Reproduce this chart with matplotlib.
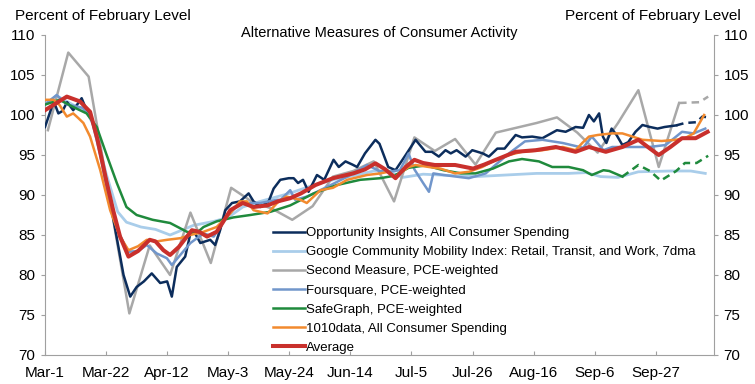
import matplotlib
matplotlib.use("Agg")
import matplotlib.pyplot as plt

plt.rcParams['font.family'] = ['Liberation Sans', 'DejaVu Sans']

# days since Mar-1
tick_days = [0, 21, 42, 63, 84, 105, 126, 147, 168, 189, 210]
tick_labels = ["Mar-1", "Mar-22", "Apr-12", "May-3", "May-24", "Jun-14",
               "Jul-5", "Jul-26", "Aug-16", "Sep-6", "Sep-27"]

# Opportunity Insights
oi_days = [0, 3, 4.6, 6, 7.6, 9.7, 12.6, 14.3, 15.5, 18, 21, 24, 27, 29.3, 31.5, 34, 36.7, 39.6, 42, 43.6,
           45.3, 48.2, 50, 51, 53.4, 56.8, 58.5, 60.2, 62, 64.3, 67, 70, 71.7, 74, 76.9, 78.6, 80.9, 83.8,
           85.5, 87, 88.7, 90.6, 93.5, 96, 99.2, 101, 103.3, 105.7, 107.3, 110, 113.6, 115, 118, 120.5,
           124, 127.4, 130.8, 133, 135.4, 137.7, 139.5, 141.5, 144.6, 146.9, 150.5, 152.6, 155.5, 158,
           161.8, 164, 167.5, 171, 176, 179, 182.4, 185, 187, 188.7, 190.5, 191.8, 193, 194.8, 196.5,
           198.5, 200.5, 203, 205.4, 208, 210.6, 213, 217]
oi_vals = [98.5, 101.7, 100.2, 100.5, 101.6, 100.6, 102.1, 100.6, 100.2, 97, 92, 86, 80, 77.3, 78.5, 79.2,
           80.2, 79.0, 79.2, 77.3, 81.0, 82.3, 85.2, 85.6, 84.0, 84.4, 83.75, 85.6, 88.1, 89.0, 89.2, 90.2,
           89.2, 88.5, 89.2, 90.8, 91.9, 92.1, 92.1, 91.5, 91.9, 90.4, 92.5, 91.9, 94.4, 93.5, 94.2, 93.8,
           93.5, 95.2, 96.9, 96.4, 93.5, 93.1, 95.0, 96.9, 95.4, 95.4, 94.8, 95.6, 95.2, 95.6, 94.8, 95.6,
           95.2, 94.8, 95.8, 95.8, 97.5, 97.2, 97.3, 97.1, 98.1, 97.9, 98.5, 98.4, 100.0, 99.2, 100.2, 97.3,
           96.5, 98.3, 97.5, 96.25, 96.6, 97.9, 98.75, 98.5, 98.3, 98.5, 98.7]
oi_dash_days = [217, 220, 224, 226, 228]
oi_dash_vals = [98.7, 99.0, 99.1, 99.8, 99.7]

# Google Community Mobility
gm_days = [0, 4, 10, 14, 17, 21, 25, 28, 33, 38, 43, 47, 51, 58, 63, 68, 74, 84, 92, 100, 106, 113, 118,
           123, 130, 148, 169, 180, 186, 191, 197, 204, 215, 222, 227]
gm_vals = [101.4, 102.4, 101.2, 100.6, 98.5, 92.7, 87.9, 86.6, 86.0, 85.7, 85.0, 85.6, 86.2, 86.7, 87.2,
           88.5, 89.2, 90.2, 91.2, 92.0, 92.4, 93.0, 93.0, 92.2, 92.6, 92.3, 92.7, 92.7, 92.8, 92.3, 92.2,
           92.9, 93.0, 93.0, 92.7]

# Second Measure (weekly)
sm_days = [1, 8, 15, 22, 29, 36, 43, 50, 57, 64, 71, 78, 85, 92, 99, 106, 113, 120, 127, 134, 141, 148,
           155, 162, 169, 176, 183, 190, 197, 204, 211, 218]
sm_vals = [98.1, 107.8, 104.8, 90.0, 75.2, 83.7, 80.0, 87.8, 81.5, 90.9, 89.2, 88.3, 86.9, 88.6, 92.3,
           93.0, 94.2, 89.2, 97.2, 95.5, 97.0, 93.8, 97.8, 98.4, 99.0, 99.7, 97.8, 95.3, 99.0, 103.1, 93.5,
           101.5]
sm_dash_days = [218, 225, 228]
sm_dash_vals = [101.5, 101.6, 102.3]

# Foursquare
fs_days = [0, 4, 7.6, 13, 16, 19, 22, 25, 28.7, 32, 35, 38.4, 41.9, 43.6, 46.5, 50, 54.5, 58, 62.5, 67,
           74, 79.8, 81, 84.3, 86, 90, 92.4, 98, 104, 110.7, 115, 118, 122, 125, 127, 130, 132, 133.5,
           137, 145.7, 151.5, 155, 159.5, 165, 171, 178, 185, 188, 192, 195, 200.8, 207.7, 213.4, 219,
           223, 227]
fs_vals = [101.3, 102.5, 101.3, 100.9, 99.5, 95, 89.5, 85.5, 82.9, 83.0, 83.75, 82.7, 82.1, 81.25, 82.5,
           84.0, 85.2, 84.8, 87.3, 89.0, 89.0, 89.4, 89.4, 90.6, 89.4, 89.8, 90.2, 91.2, 92.3, 93.75, 93.0,
           92.9, 93.1, 95.2, 93.2, 91.5, 90.4, 92.7, 92.5, 92.1, 92.7, 93.8, 95.2, 96.7, 96.9, 96.5, 95.9,
           97.3, 95.6, 96.0, 96.0, 96.0, 96.25, 97.9, 97.7, 98.3]

# SafeGraph
sg_days = [0, 5, 9.7, 14.3, 17.8, 21, 24.7, 28, 31.5, 37, 43, 48.8, 52, 54.5, 59, 64.8, 70.6, 77.5, 84.3,
           92.4, 100.4, 108.4, 115.3, 120, 125, 130.8, 137, 143, 148, 154, 159.5, 164, 169.8, 174.4, 180,
           185, 188, 192, 194, 198.5]
sg_vals = [101.3, 101.9, 101.0, 100.2, 98.5, 95.2, 91.5, 88.5, 87.5, 86.9, 86.5, 85.4, 85.2, 86.0, 86.7,
           87.2, 87.5, 87.9, 88.7, 90.2, 91.25, 91.9, 92.1, 92.4, 93.4, 93.7, 93.1, 92.7, 92.7, 93.3, 94.2,
           94.5, 94.2, 93.5, 93.5, 93.1, 92.5, 93.1, 93.0, 92.3]
sg_dash_days = [198.5, 204, 208, 211.7, 217, 220, 224, 228]
sg_dash_vals = [92.3, 93.75, 93.0, 91.8, 93.0, 94.0, 94.0, 94.9]

# 1010data
td_days = [0, 3, 5, 7.5, 9.7, 11.5, 13.2, 15.5, 19, 22.4, 25.8, 28.7, 32, 35, 38.4, 42, 46.5, 50, 54.5,
           59, 63.7, 67, 69.4, 71.7, 74, 76.5, 79.8, 83, 87.8, 90, 94.7, 99, 103.9, 110.7, 115.3, 118,
           120.5, 125, 127.4, 132, 136, 141, 145.7, 150.3, 155, 159.5, 164, 171, 178, 182.4, 184.7, 187,
           190, 194.8, 198.5, 202, 205.4, 212, 216.9, 220, 223, 226.6]
td_vals = [101.9, 101.9, 101.25, 99.8, 100.2, 99.6, 99.0, 97.3, 93.1, 88.1, 84.8, 83.1, 83.6, 84.4, 84.2,
           84.4, 84.6, 85.0, 85.4, 86.0, 87.7, 89.2, 89.2, 88.1, 87.9, 87.7, 89.0, 89.8, 89.4, 89.0, 90.6,
           90.9, 91.9, 92.5, 92.7, 92.9, 92.3, 93.5, 93.75, 93.5, 93.3, 92.7, 92.9, 93.5, 94.4, 95.0, 95.4,
           95.6, 96.0, 95.6, 96.5, 97.3, 97.5, 97.7, 97.7, 97.3, 96.9, 96.75, 96.9, 97.1, 97.7, 100.0]

# Average
av_days = [0, 4, 7.5, 12, 15.5, 18, 21, 23.5, 25.8, 28.7, 32, 36, 38, 40.7, 43, 46, 50.5, 53, 55.7, 59,
           61, 63.7, 68, 71.7, 76.5, 80, 84.3, 88, 93, 99, 106, 110, 113.6, 117, 120.5, 124, 127, 130,
           134, 141, 147.2, 151, 155, 161.8, 168.7, 175.6, 182.4, 187, 192.8, 198.5, 204, 208, 211, 215,
           219, 223.7, 227.8]
av_vals = [100.6, 101.5, 102.3, 101.7, 100.4, 97, 91.9, 88, 84.8, 82.3, 83.0, 84.4, 84.2, 83.1, 82.5,
           83.5, 85.6, 85.4, 84.8, 85.4, 86.5, 88.1, 89.0, 88.5, 88.7, 89.2, 89.6, 90.2, 91.25, 92.1, 92.7,
           93.2, 93.96, 93.2, 92.1, 93.5, 94.4, 94.0, 93.75, 93.75, 93.3, 93.8, 94.4, 95.4, 95.6, 96.0,
           95.4, 96.0, 95.4, 96.0, 96.9, 95.8, 95.0, 96.0, 97.1, 97.1, 97.9]

c_oi = "#0c2d5c"
c_gm = "#a9cdea"
c_sm = "#a8a8a8"
c_fs = "#7196cb"
c_sg = "#1f8a3c"
c_td = "#f28a2e"
c_av = "#c9302c"

fig = plt.figure(figsize=(7.55, 3.84), dpi=100)
ax = fig.add_axes([45 / 755, 1 - 355 / 384, (714 - 45) / 755, 320 / 384])

ax.plot(oi_days, oi_vals, color=c_oi, lw=1.8, label="Opportunity Insights, All Consumer Spending", zorder=3)
ax.plot(oi_dash_days, oi_dash_vals, color=c_oi, lw=1.8, ls=(0, (3, 2)), zorder=3)
ax.plot(gm_days, gm_vals, color=c_gm, lw=2.0,
        label="Google Community Mobility Index: Retail, Transit, and Work, 7dma", zorder=2)
ax.plot(sm_days, sm_vals, color=c_sm, lw=1.8, label="Second Measure, PCE-weighted", zorder=2)
ax.plot(sm_dash_days, sm_dash_vals, color=c_sm, lw=1.8, ls=(0, (3, 2)), zorder=2)
ax.plot(fs_days, fs_vals, color=c_fs, lw=1.8, label="Foursquare, PCE-weighted", zorder=3)
ax.plot(sg_days, sg_vals, color=c_sg, lw=1.8, label="SafeGraph, PCE-weighted", zorder=3)
ax.plot(sg_dash_days, sg_dash_vals, color=c_sg, lw=1.8, ls=(0, (3, 2)), zorder=3)
ax.plot(td_days, td_vals, color=c_td, lw=1.8, label="1010data, All Consumer Spending", zorder=3)
ax.plot(av_days, av_vals, color=c_av, lw=2.9, label="Average", zorder=4)

ax.set_xlim(0, 230)
ax.set_ylim(70, 110)
ax.set_yticks(range(70, 111, 5))
ax.set_xticks(tick_days)
ax.set_xticklabels(tick_labels)

for s in ["left", "right", "bottom"]:
    ax.spines[s].set_color("#a0a0a0")
ax.spines["top"].set_visible(False)
ax.tick_params(axis="y", direction="out", length=3, color="#a0a0a0", labelsize=11,
               right=True, labelright=True, pad=4)
ax.tick_params(axis="x", direction="in", length=3, color="#a0a0a0", labelsize=11, pad=8)

ax.text(0.5, 1.005, "Alternative Measures of Consumer Activity", transform=ax.transAxes,
        ha="center", va="center", fontsize=10.5)
fig.text(15 / 755, 1 - 16 / 384, "Percent of February Level", ha="left", va="center", fontsize=11)
fig.text(741 / 755, 1 - 16 / 384, "Percent of February Level", ha="right", va="center", fontsize=11)

leg = ax.legend(loc="upper left", bbox_to_anchor=(0.341, 0.40), frameon=False, fontsize=9.5,
                handlelength=2.4, handletextpad=0.1, labelspacing=0.52, borderpad=0, borderaxespad=0)

fig.savefig("out.png", dpi=100)
